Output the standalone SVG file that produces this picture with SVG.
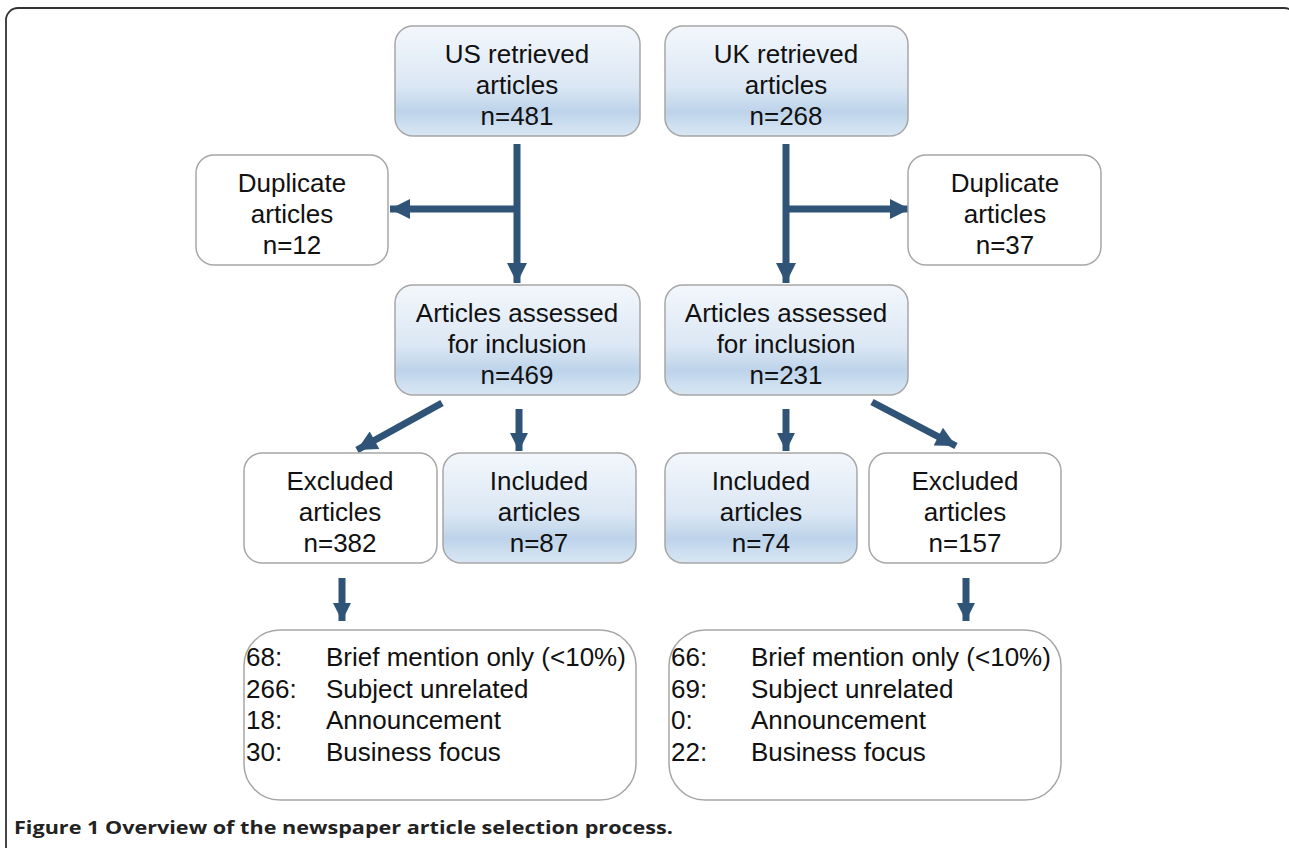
<svg xmlns="http://www.w3.org/2000/svg" width="1289" height="848" viewBox="0 0 1289 848">
<defs>
<linearGradient id="blue" x1="0" y1="0" x2="0" y2="1">
<stop offset="0" stop-color="#f3f7fc"/>
<stop offset="0.55" stop-color="#dbe7f4"/>
<stop offset="0.78" stop-color="#bdd3ea"/>
<stop offset="0.9" stop-color="#cddff0"/>
<stop offset="1" stop-color="#d9e6f3"/>
</linearGradient>
<marker id="head" viewBox="0 0 10 10" refX="10" refY="5" markerWidth="26" markerHeight="20" markerUnits="userSpaceOnUse" orient="auto">
<path d="M0,0 L10,5 L0,10 Z" fill="#2f5478"/>
</marker>
<marker id="heads" viewBox="0 0 10 10" refX="10" refY="5" markerWidth="22" markerHeight="18" markerUnits="userSpaceOnUse" orient="auto">
<path d="M0,0 L10,5 L0,10 Z" fill="#2f5478"/>
</marker>
</defs>
<style>
.box{stroke:#a6a6a6;stroke-width:1.5}
.w{fill:#ffffff}
.b{fill:url(#blue)}
.t{font-family:"Liberation Sans",Arial,sans-serif;font-size:26px;fill:#111;text-anchor:middle}
.l{font-family:"Liberation Sans",Arial,sans-serif;font-size:26px;fill:#111}
.c{fill:none;stroke:#2f5478;stroke-width:7}
.cap{font-family:"Open Sans","Liberation Sans",sans-serif;font-weight:bold;font-size:18px;fill:#222}
</style>
<rect x="6" y="8" width="1290" height="850" rx="12" fill="none" stroke="#333" stroke-width="1.8"/>

<g id="connectors">
<path class="c" d="M517,144 V283" marker-end="url(#head)"/>
<path class="c" d="M517,209 H390" marker-end="url(#head)"/>
<path class="c" d="M786,144 V283" marker-end="url(#head)"/>
<path class="c" d="M786,209 H910" marker-end="url(#head)"/>
<path class="c" d="M442,403 L357,450" marker-end="url(#head)"/>
<path class="c" d="M519,409 V451" marker-end="url(#heads)"/>
<path class="c" d="M786,409 V451" marker-end="url(#heads)"/>
<path class="c" d="M872,402 L956,446" marker-end="url(#head)"/>
<path class="c" d="M342,578 V621" marker-end="url(#heads)"/>
<path class="c" d="M966,578 V621" marker-end="url(#heads)"/>
</g>

<g id="us-retrieved">
<rect class="box b" x="395" y="26" width="245" height="110" rx="18"/>
<text class="t" x="517" y="63">US retrieved</text>
<text class="t" x="517" y="94">articles</text>
<text class="t" x="517" y="125">n=481</text>
</g>
<g id="uk-retrieved">
<rect class="box b" x="665" y="26" width="243" height="110" rx="18"/>
<text class="t" x="786" y="63">UK retrieved</text>
<text class="t" x="786" y="94">articles</text>
<text class="t" x="786" y="125">n=268</text>
</g>
<g id="us-duplicate">
<rect class="box w" x="196" y="155" width="192" height="110" rx="18"/>
<text class="t" x="292" y="192">Duplicate</text>
<text class="t" x="292" y="223">articles</text>
<text class="t" x="292" y="254">n=12</text>
</g>
<g id="uk-duplicate">
<rect class="box w" x="908" y="155" width="193" height="110" rx="18"/>
<text class="t" x="1005" y="192">Duplicate</text>
<text class="t" x="1005" y="223">articles</text>
<text class="t" x="1005" y="254">n=37</text>
</g>
<g id="us-assessed">
<rect class="box b" x="395" y="285" width="245" height="110" rx="18"/>
<text class="t" x="517" y="322">Articles assessed</text>
<text class="t" x="517" y="353">for inclusion</text>
<text class="t" x="517" y="384">n=469</text>
</g>
<g id="uk-assessed">
<rect class="box b" x="665" y="285" width="243" height="110" rx="18"/>
<text class="t" x="786" y="322">Articles assessed</text>
<text class="t" x="786" y="353">for inclusion</text>
<text class="t" x="786" y="384">n=231</text>
</g>
<g id="us-excluded">
<rect class="box w" x="244" y="453" width="193" height="110" rx="18"/>
<text class="t" x="340" y="490">Excluded</text>
<text class="t" x="340" y="521">articles</text>
<text class="t" x="340" y="552">n=382</text>
</g>
<g id="us-included">
<rect class="box b" x="443" y="453" width="193" height="110" rx="18"/>
<text class="t" x="539" y="490">Included</text>
<text class="t" x="539" y="521">articles</text>
<text class="t" x="539" y="552">n=87</text>
</g>
<g id="uk-included">
<rect class="box b" x="665" y="453" width="192" height="110" rx="18"/>
<text class="t" x="761" y="490">Included</text>
<text class="t" x="761" y="521">articles</text>
<text class="t" x="761" y="552">n=74</text>
</g>
<g id="uk-excluded">
<rect class="box w" x="869" y="453" width="192" height="110" rx="18"/>
<text class="t" x="965" y="490">Excluded</text>
<text class="t" x="965" y="521">articles</text>
<text class="t" x="965" y="552">n=157</text>
</g>
<g id="us-reasons">
<rect class="box w" x="244" y="630" width="392" height="170" rx="36"/>
<text class="l" x="246" y="666">68:</text>
<text class="l" x="326" y="666">Brief mention only (&lt;10%)</text>
<text class="l" x="246" y="698">266:</text>
<text class="l" x="326" y="698">Subject unrelated</text>
<text class="l" x="246" y="729">18:</text>
<text class="l" x="326" y="729">Announcement</text>
<text class="l" x="246" y="761">30:</text>
<text class="l" x="326" y="761">Business focus</text>
</g>
<g id="uk-reasons">
<rect class="box w" x="669" y="630" width="392" height="170" rx="36"/>
<text class="l" x="671" y="666">66:</text>
<text class="l" x="751" y="666">Brief mention only (&lt;10%)</text>
<text class="l" x="671" y="698">69:</text>
<text class="l" x="751" y="698">Subject unrelated</text>
<text class="l" x="671" y="729">0:</text>
<text class="l" x="751" y="729">Announcement</text>
<text class="l" x="671" y="761">22:</text>
<text class="l" x="751" y="761">Business focus</text>
</g>
<text class="cap" x="14" y="834" textLength="659" lengthAdjust="spacingAndGlyphs">Figure 1 Overview of the newspaper article selection process.</text>
</svg>
